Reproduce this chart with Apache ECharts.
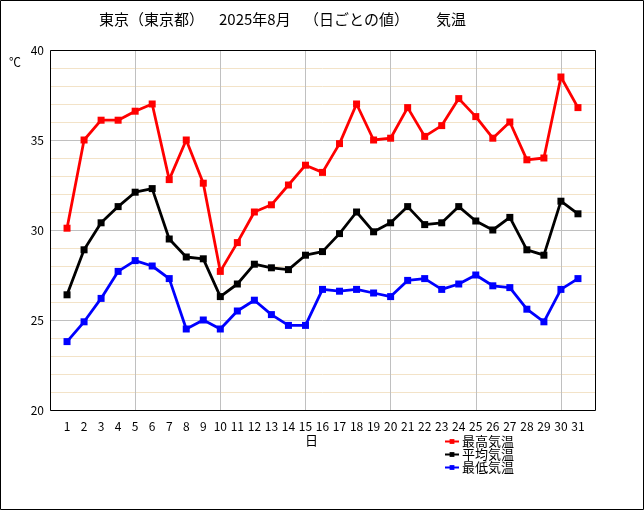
<!DOCTYPE html>
<html>
<head>
<meta charset="utf-8">
<script src="https://cdn.jsdelivr.net/npm/echarts@6/dist/echarts.min.js"></script>
<style>
html,body{margin:0;padding:0;background:#fff;}
#c{width:644px;height:510px;}
</style>
</head>
<body>
<div id="c"></div>
<script>
const titleParts = ['東京（東京都）', '2025年8月', '（日ごとの値）', '気温'];
const days = [1,2,3,4,5,6,7,8,9,10,11,12,13,14,15,16,17,18,19,20,21,22,23,24,25,26,27,28,29,30,31];
const maxTemp = [30.1,35.0,36.1,36.1,36.6,37.0,32.8,35.0,32.6,27.7,29.3,31.0,31.4,32.5,33.6,33.2,34.8,37.0,35.0,35.1,36.8,35.2,35.8,37.3,36.3,35.1,36.0,33.9,34.0,38.5,36.8];
const avgTemp = [26.4,28.9,30.4,31.3,32.1,32.3,29.5,28.5,28.4,26.3,27.0,28.1,27.9,27.8,28.6,28.8,29.8,31.0,29.9,30.4,31.3,30.3,30.4,31.3,30.5,30.0,30.7,28.9,28.6,31.6,30.9];
const minTemp = [23.8,24.9,26.2,27.7,28.3,28.0,27.3,24.5,25.0,24.5,25.5,26.1,25.3,24.7,24.7,26.7,26.6,26.7,26.5,26.3,27.2,27.3,26.7,27.0,27.5,26.9,26.8,25.6,24.9,26.7,27.3];
const seriesNames = ['最高気温','平均気温','最低気温'];
const seriesColors = ['#ff0000','#000000','#0000ff'];
const yTicks = {min:20, max:40, interval:5};

const font = '"Noto Sans CJK JP", sans-serif';
const chart = echarts.init(document.getElementById('c'), null, {renderer:'canvas'});
const pairs = arr => days.map((d,i)=>[d, arr[i]]);
const allData = [maxTemp, avgTemp, minTemp];
const titleLefts = [99, 219, 304, 436];

chart.setOption({
  animation:false,
  backgroundColor:'#fff',
  textStyle:{fontFamily:font},
  grid:{left:50, right:49, top:50, bottom:100, show:false},
  legend:{
    data:seriesNames, orient:'vertical', left:439, top:430, itemGap:0,
    itemWidth:14, itemHeight:6,
    textStyle:{fontSize:13, color:'#000', fontFamily:font, padding:[0,0,0,-2]}
  },
  xAxis:[
    {type:'value', min:0, max:32, interval:1,
     axisLine:{show:false}, axisTick:{show:false}, splitLine:{show:false},
     axisLabel:{fontSize:12, color:'#000', margin:10, fontFamily:font,
       formatter:v => (v>=1 && v<=31) ? String(v) : ''}},
    {type:'value', min:0, max:32, interval:5, position:'bottom',
     axisLine:{show:false}, axisTick:{show:false}, axisLabel:{show:false},
     splitLine:{show:true, lineStyle:{color:'#c0c0c0', width:1}}}
  ],
  yAxis:{type:'value', min:yTicks.min, max:yTicks.max, interval:yTicks.interval,
    axisLine:{show:false}, axisTick:{show:false},
    axisLabel:{fontSize:12, color:'#000', margin:6, fontFamily:font},
    splitLine:{show:true, lineStyle:{color:'#c0c0c0', width:1}},
    minorTick:{show:false, splitNumber:5},
    minorSplitLine:{show:true, lineStyle:{color:'#f3e3c8', width:1}}},
  graphic:[
    {type:'rect', shape:{x:0.5, y:0.5, width:643, height:509}, style:{fill:'none', stroke:'#000', lineWidth:1}, silent:true, z:100},
    {type:'rect', shape:{x:50.5, y:50.5, width:545, height:360}, style:{fill:'none', stroke:'#000', lineWidth:1}, silent:true, z:100},
    {type:'text', left:9, top:56, style:{text:'℃', fill:'#000', font:'12px '+font}},
    {type:'text', left:305, top:434, style:{text:'日', fill:'#000', font:'13px '+font}}
  ].concat(titleParts.map((t,i)=>({
    type:'text', left:titleLefts[i], top:12, style:{text:t, fill:'#000', font:'15px '+font}
  }))),
  series: seriesNames.map((n,i)=>({
    name:n, type:'line', xAxisIndex:0, data:pairs(allData[i]),
    symbol:'rect', symbolSize:7, showAllSymbol:true,
    lineStyle:{color:seriesColors[i], width:2.8},
    itemStyle:{color:seriesColors[i]},
    z:10-i
  }))
});
</script>
</body>
</html>
